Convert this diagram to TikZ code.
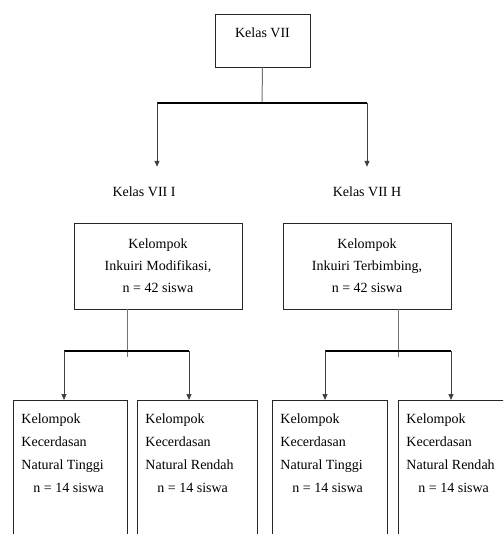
\documentclass[tikz,border=0pt]{standalone}
\usepackage{fontspec}
\setmainfont{Liberation Serif}
\usetikzlibrary{arrows.meta}
\tikzset{
  kotak/.style={draw=black!85,line width=0.9pt},
  tangkai/.style={draw=black!55,line width=1pt},
  cabang/.style={draw=black,line width=2pt},
  panah/.style={draw=black!75,line width=1pt,-{Triangle[length=6pt,width=5pt]}},
  bawah/.style={kotak,anchor=north west,inner xsep=8pt,inner ysep=13pt,text depth=140pt,font=\fontsize{14}{23}\selectfont}
}
\begin{document}
\begin{tikzpicture}[x=1pt,y=-1pt,font=\fontsize{14}{22}\selectfont]
\useasboundingbox (0,0) rectangle (503,534);
\clip (0,0) rectangle (503,534);
% kelas asal
\node[kotak,minimum width=95pt,minimum height=53pt,inner sep=0pt,text height=10pt,text depth=15pt] (kelas) at (262.5,40.5) {Kelas VII};
\coordinate (pisah) at (262,103);
\coordinate (kiri) at (157,103);
\coordinate (kanan) at (367,103);
\draw[tangkai] (kelas.south) -- (pisah);
\draw[cabang] (kiri) -- (kanan);
\node[anchor=base] (kelasI) at (144,197) {Kelas VII I};
\node[anchor=base] (kelasH) at (367,197) {Kelas VII H};
\draw[panah,shorten >=17pt] (kiri) -- (kiri |- kelasI.north);
\draw[panah,shorten >=17pt] (kanan) -- (kanan |- kelasH.north);
% kelompok inkuiri
\node[kotak,minimum width=168pt,minimum height=86pt,align=center] (modif) at (158,266) {Kelompok\\Inkuiri Modifikasi,\\n = 42 siswa};
\node[kotak,minimum width=168pt,minimum height=86pt,align=center] (bimbing) at (367,266) {Kelompok\\Inkuiri Terbimbing,\\n = 42 siswa};
% kelompok kecerdasan natural
\foreach \nama/\x/\lebar/\jenis in {tinggiA/13/114/Tinggi,rendahA/137/120/Rendah,tinggiB/272/115/Tinggi,rendahB/398/120/Rendah}
{
\node[bawah] (\nama) at (\x,400) {\parbox[t]{\dimexpr\lebar pt-16pt\relax}{\raggedright Kelompok\\Kecerdasan\\Natural \jenis\\\hspace*{12pt}n = 14 siswa}};
}
\coordinate (pisahA) at (127,351);
\coordinate (pisahB) at (398,351);
\coordinate (cabA1) at (64,351);
\coordinate (cabA2) at (189,351);
\coordinate (cabB1) at (325,351);
\coordinate (cabB2) at (451,351);
\draw[tangkai] (modif.south -| pisahA) -- ([yshift=-6pt]pisahA);
\draw[tangkai] (bimbing.south -| pisahB) -- ([yshift=-6pt]pisahB);
\draw[cabang] (cabA1) -- (cabA2);
\draw[cabang] (cabB1) -- (cabB2);
\draw[panah] (cabA1) -- (cabA1 |- tinggiA.north);
\draw[panah] (cabA2) -- (cabA2 |- rendahA.north);
\draw[panah] (cabB1) -- (cabB1 |- tinggiB.north);
\draw[panah] (cabB2) -- (cabB2 |- rendahB.north);
\end{tikzpicture}
\end{document}
